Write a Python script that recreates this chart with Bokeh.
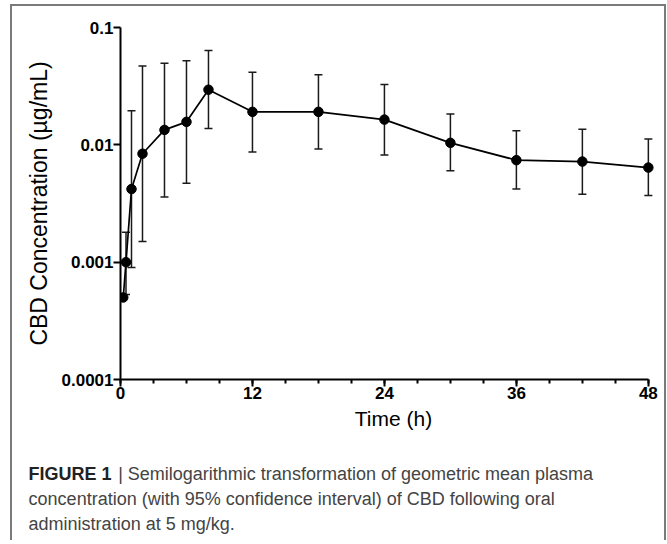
from bokeh.plotting import figure
from bokeh.layouts import column
from bokeh.models import (ColumnDataSource, Whisker, TeeHead, FixedTicker, Range1d, Label)
from bokeh.embed import file_html
from bokeh.resources import INLINE

# ---- data ----
time_h = [0.25, 0.5, 1, 2, 4, 6, 8, 12, 18, 24, 30, 36, 42, 48]
geo_mean = [0.0005, 0.001, 0.0042, 0.0084, 0.0134, 0.0157, 0.0295, 0.0191, 0.0191, 0.0164, 0.0104, 0.0074, 0.0072, 0.0064]
ci_lower = [0.0005, 0.00053, 0.0009, 0.0015, 0.0036, 0.0047, 0.0138, 0.0087, 0.0092, 0.0082, 0.0060, 0.0042, 0.0038, 0.0037]
ci_upper = [0.0005, 0.0018, 0.0195, 0.047, 0.0495, 0.052, 0.0636, 0.0415, 0.0396, 0.0326, 0.0183, 0.0132, 0.0136, 0.0112]

x_ticks = [0, 12, 24, 36, 48]
x_minor_ticks = [0, 3, 6, 9, 12, 15, 18, 21, 24, 27, 30, 33, 36, 39, 42, 45, 48]
y_ticks = [0.0001, 0.001, 0.01, 0.1]
y_tick_labels = ["0.0001", "0.001", "0.01", "0.1"]

x_label = "Time (h)"
y_label = "CBD Concentration (µg/mL)"
caption_bold = "FIGURE 1"
caption_lines = [
    "| Semilogarithmic transformation of geometric mean plasma",
    "concentration (with 95% confidence interval) of CBD following oral",
    "administration at 5 mg/kg.",
]

FONT = "Liberation Sans"
BORDER = "2px solid #7a7a7a"
W = 656          # including 2px side borders (border-box)
H1, H2 = 436, 100
ML, MR = 108, 2  # frame margins inside the canvas

source = ColumnDataSource(dict(t=time_h, m=geo_mean, lo=ci_lower, hi=ci_upper))

p = figure(width=W, height=H1, output_backend="svg", toolbar_location=None,
           y_axis_type="log",
           x_range=Range1d(0, 49.65), y_range=Range1d(1e-4, 1e-1),
           min_border_left=ML, min_border_right=MR, min_border_top=21, min_border_bottom=63)
p.styles = {"border-left": BORDER, "border-top": BORDER, "border-right": BORDER,
            "box-sizing": "border-box"}

p.outline_line_color = None
p.xgrid.grid_line_color = None
p.ygrid.grid_line_color = None
p.background_fill_color = "white"
p.border_fill_color = "white"

# error bars
wh = Whisker(source=source, base="t", lower="lo", upper="hi",
             line_color="#1a1a1a", line_width=1.5,
             upper_head=TeeHead(size=8, line_color="#1a1a1a", line_width=1.5),
             lower_head=TeeHead(size=8, line_color="#1a1a1a", line_width=1.5))
p.add_layout(wh)

p.line("t", "m", source=source, line_color="black", line_width=1.7)
p.scatter("t", "m", source=source, size=9.5, fill_color="black", line_color="black")

# x axis
xa = p.xaxis[0]
xa.ticker = FixedTicker(ticks=x_ticks, minor_ticks=x_minor_ticks)
xa.bounds = (0, 48)
xa.axis_label = x_label
xa.axis_label_text_font = FONT
xa.axis_label_text_font_style = "normal"
xa.axis_label_text_font_size = "21px"
xa.axis_label_text_color = "black"
xa.axis_label_standoff = 5
xa.major_label_text_font = FONT
xa.major_label_text_font_style = "bold"
xa.major_label_text_font_size = "17px"
xa.major_label_text_color = "black"
xa.major_label_standoff = 0
xa.axis_line_width = 2
xa.axis_line_color = "black"
xa.major_tick_line_width = 2
xa.major_tick_line_color = "black"
xa.major_tick_out = 7
xa.major_tick_in = 0
xa.minor_tick_line_width = 2
xa.minor_tick_line_color = "black"
xa.minor_tick_out = 4
xa.minor_tick_in = 0

# y axis
ya = p.yaxis[0]
ya.ticker = FixedTicker(ticks=y_ticks, minor_ticks=[])
ya.major_label_overrides = {v: s for v, s in zip(y_ticks, y_tick_labels)}
ya.axis_label = y_label
ya.axis_label_text_font = FONT
ya.axis_label_text_font_style = "normal"
ya.axis_label_text_font_size = "23px"
ya.axis_label_text_color = "black"
ya.axis_label_standoff = 7
ya.major_label_text_font = FONT
ya.major_label_text_font_style = "bold"
ya.major_label_text_font_size = "17px"
ya.major_label_text_color = "black"
ya.major_label_standoff = 0
ya.axis_line_width = 2
ya.axis_line_color = "black"
ya.major_tick_line_width = 2
ya.major_tick_line_color = "black"
ya.major_tick_out = 7
ya.major_tick_in = 0
ya.minor_tick_line_color = None

# caption panel: pixel coordinates (x rightward, y downward), frame = whole canvas
cw = W - 4
cap = figure(width=W, height=H2, output_backend="svg", toolbar_location=None,
             x_range=Range1d(0, cw), y_range=Range1d(H2, 0),
             x_axis_type=None, y_axis_type=None,
             min_border_left=0, min_border_right=0, min_border_top=0, min_border_bottom=0)
if "frame_align" in cap.properties():
    cap.frame_align = False
    p.frame_align = False
cap.styles = {"border-left": BORDER, "border-right": BORDER, "box-sizing": "border-box"}
cap.outline_line_color = None
cap.xgrid.grid_line_color = None
cap.ygrid.grid_line_color = None
cap.border_fill_color = "white"
cap.background_fill_color = "white"

cap_size = "18px"
base_y = [33, 58, 83]
cap.add_layout(Label(x=16, y=base_y[0], text=caption_bold,
                     text_font=FONT, text_font_style="bold", text_font_size=cap_size,
                     text_color="#222222", text_baseline="alphabetic"))
cap.add_layout(Label(x=105, y=base_y[0], text=caption_lines[0],
                     text_font=FONT, text_font_size=cap_size,
                     text_color="#444444", text_baseline="alphabetic"))
for i in (1, 2):
    cap.add_layout(Label(x=16, y=base_y[i], text=caption_lines[i],
                         text_font=FONT, text_font_size=cap_size,
                         text_color="#444444", text_baseline="alphabetic"))

layout = column(p, cap, spacing=0, styles={"margin-left": "10px", "margin-top": "4px"})

open("out.html", "w", encoding="utf-8").write(file_html(layout, INLINE))
